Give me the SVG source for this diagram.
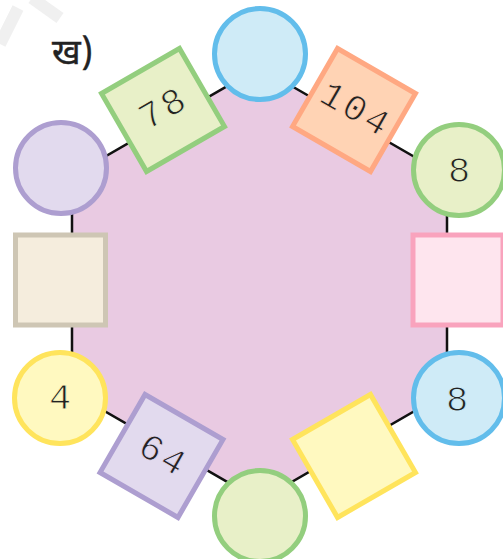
<svg xmlns="http://www.w3.org/2000/svg" width="503" height="559" viewBox="0 0 503 559">
<style>
.blue{fill:#CFEBF7;stroke:#62BDEB;stroke-width:5}
.green{fill:#E8F0C8;stroke:#93CE7E;stroke-width:5}
.yellow{fill:#FFF9C0;stroke:#FFE45C;stroke-width:5}
.lav{fill:#E2DAEE;stroke:#AD9ED0;stroke-width:5}
.peach{fill:#FFD3B4;stroke:#FFA882;stroke-width:5}
.pink{fill:#FEE5EE;stroke:#F9A3BD;stroke-width:5}
.beige{fill:#F5EDDD;stroke:#CEC6B4;stroke-width:5}
.num{font-family:"Liberation Mono","DejaVu Sans Mono",monospace;font-size:37px;fill:#222;text-anchor:middle;dominant-baseline:central;stroke-width:0.9px}
.sp{letter-spacing:3px}
</style>
<rect width="503" height="559" fill="#fff"/>
<g id="watermark" stroke="#F0F0F0" stroke-width="12" fill="none">
<line x1="0" y1="44" x2="18" y2="8"/>
<line x1="32" y1="-2" x2="60" y2="18"/>
</g>
<text id="label" x="52" y="64" font-family="'Noto Sans Devanagari','Noto Sans',sans-serif" font-size="35" fill="#222" stroke="#222" stroke-width="0.4">ख)</text>
<g id="connectors">
<polygon points="259.5,67.5 447,175.75 447,392.25 259.5,500.5 72,392.25 72,175.75" fill="#E9CAE2" stroke="#111" stroke-width="2.5"/>
</g>
<g id="n-top"><circle cx="260" cy="54" r="45.5" class="blue"/></g>
<g id="n-ur"><circle cx="459" cy="170" r="45.5" class="green"/><text x="459" y="172" class="num" stroke="#E8F0C8">8</text></g>
<g id="n-lr"><circle cx="459" cy="398" r="45.5" class="blue"/><text x="457" y="401" class="num" stroke="#CFEBF7">8</text></g>
<g id="n-bottom"><circle cx="260" cy="516" r="45.5" class="green"/></g>
<g id="n-ll"><circle cx="60" cy="398" r="45.5" class="yellow"/><text x="60" y="399" class="num" stroke="#FFF9C0">4</text></g>
<g id="n-ul"><circle cx="61" cy="168" r="45.5" class="lav"/></g>
<g id="s-tl" transform="translate(163,110) rotate(-30)"><rect x="-45" y="-45" width="90" height="90" class="green"/><text x="1.5" y="0" class="num sp" stroke="#E8F0C8">78</text></g>
<g id="s-tr" transform="translate(354,110) rotate(30)"><rect x="-45" y="-45" width="90" height="90" class="peach"/><text x="1.5" y="0" class="num sp" stroke="#FFD3B4">104</text></g>
<g id="s-r" transform="translate(458,280)"><rect x="-45" y="-45" width="90" height="90" class="pink"/></g>
<g id="s-br" transform="translate(354,456) rotate(-30)"><rect x="-45" y="-45" width="90" height="90" class="yellow"/></g>
<g id="s-bl" transform="translate(161.5,456) rotate(30)"><rect x="-45" y="-45" width="90" height="90" class="lav"/><text x="1.5" y="0" class="num sp" stroke="#E2DAEE">64</text></g>
<g id="s-l" transform="translate(60.5,280)"><rect x="-45" y="-45" width="90" height="90" class="beige"/></g>
</svg>
